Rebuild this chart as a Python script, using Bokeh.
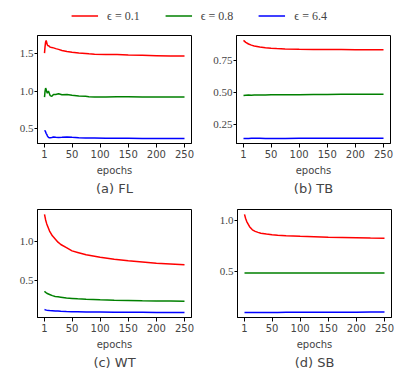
from bokeh.plotting import figure
from bokeh.layouts import column, row
from bokeh.models import FixedTicker, Title, Legend, LegendItem, Range1d
from bokeh.embed import file_html
from bokeh.resources import INLINE

# ---------------- data ----------------
eps_labels = ["ϵ = 0.1", "ϵ = 0.8", "ϵ = 6.4"]
x_ticks = [1, 50, 100, 150, 200, 250]

# (a) FL
fl_epochs = [1, 2, 3, 4, 5, 6, 7, 8, 9, 11, 14, 17, 21, 26, 32, 41, 50, 62, 74, 80, 90, 110, 130, 150, 175, 200, 225, 250]
fl_eps01 = [1.51, 1.60, 1.66, 1.68, 1.65, 1.62, 1.61, 1.61, 1.605, 1.59, 1.585, 1.58, 1.57, 1.56, 1.545, 1.53, 1.52, 1.51, 1.505, 1.50, 1.495, 1.49, 1.49, 1.485, 1.48, 1.475, 1.47, 1.47]
fl_eps08 = [0.92, 1.00, 1.04, 1.02, 0.99, 0.97, 0.99, 1.00, 0.98, 0.94, 0.93, 0.955, 0.955, 0.965, 0.95, 0.955, 0.945, 0.935, 0.93, 0.925, 0.92, 0.92, 0.925, 0.925, 0.92, 0.92, 0.92, 0.92]
fl_eps64 = [0.46, 0.47, 0.45, 0.43, 0.42, 0.40, 0.39, 0.38, 0.375, 0.375, 0.378, 0.385, 0.38, 0.378, 0.38, 0.385, 0.38, 0.375, 0.372, 0.37, 0.37, 0.368, 0.366, 0.366, 0.365, 0.365, 0.364, 0.363]
fl_yticks = [0.5, 1.0, 1.5]
fl_ylabels = ["0.5", "1.0", "1.5"]

# (b) TB
tb_epochs = [1, 5, 10, 15, 20, 30, 40, 50, 60, 75, 100, 125, 150, 175, 200, 225, 250]
tb_eps01 = [0.905, 0.89, 0.877, 0.868, 0.862, 0.853, 0.848, 0.844, 0.841, 0.838, 0.836, 0.835, 0.834, 0.834, 0.833, 0.833, 0.833]
tb_eps08 = [0.475, 0.478, 0.480, 0.478, 0.479, 0.480, 0.480, 0.481, 0.481, 0.482, 0.482, 0.483, 0.483, 0.484, 0.484, 0.485, 0.485]
tb_eps64 = [0.140, 0.139, 0.140, 0.141, 0.141, 0.141, 0.140, 0.140, 0.140, 0.140, 0.141, 0.141, 0.141, 0.141, 0.142, 0.142, 0.142]
tb_yticks = [0.25, 0.50, 0.75]
tb_ylabels = ["0.25", "0.50", "0.75"]

# (c) WT
wt_epochs = [1, 3, 5, 10, 15, 20, 25, 30, 40, 50, 60, 75, 100, 125, 150, 175, 200, 225, 250]
wt_eps01 = [1.34, 1.27, 1.22, 1.13, 1.07, 1.03, 0.99, 0.96, 0.92, 0.88, 0.86, 0.83, 0.80, 0.775, 0.755, 0.74, 0.725, 0.715, 0.705]
wt_eps08 = [0.37, 0.355, 0.345, 0.33, 0.315, 0.305, 0.30, 0.295, 0.285, 0.28, 0.275, 0.27, 0.263, 0.258, 0.254, 0.25, 0.248, 0.246, 0.244]
wt_eps64 = [0.14, 0.135, 0.132, 0.128, 0.125, 0.122, 0.12, 0.118, 0.115, 0.113, 0.112, 0.11, 0.108, 0.106, 0.105, 0.104, 0.103, 0.102, 0.101]
wt_yticks = [0.5, 1.0]
wt_ylabels = ["0.5", "1.0"]

# (d) SB
sb_epochs = [1, 3, 5, 10, 15, 20, 25, 30, 40, 50, 60, 75, 100, 125, 150, 175, 200, 225, 250]
sb_eps01 = [1.06, 1.02, 0.99, 0.94, 0.91, 0.895, 0.885, 0.877, 0.868, 0.862, 0.857, 0.852, 0.846, 0.842, 0.838, 0.835, 0.832, 0.829, 0.827]
sb_eps08 = [0.490, 0.490, 0.490, 0.490, 0.490, 0.490, 0.490, 0.490, 0.490, 0.490, 0.490, 0.490, 0.490, 0.490, 0.490, 0.490, 0.490, 0.490, 0.490]
sb_eps64 = [0.103, 0.103, 0.104, 0.104, 0.104, 0.104, 0.105, 0.105, 0.105, 0.105, 0.105, 0.106, 0.106, 0.106, 0.107, 0.107, 0.107, 0.108, 0.108]
sb_yticks = [0.5, 1.0]
sb_ylabels = ["0.5", "1.0"]

captions = ["(a) FL", "(b) TB", "(c) WT", "(d) SB"]

# ---------------- style ----------------
COLORS = ["#ff0000", "#008000", "#0000ff"]
SANS = "DejaVu Sans"
SERIF = "Liberation Serif"


def padded(vals, frac=0.05):
    lo, hi = min(vals), max(vals)
    d = (hi - lo) * frac
    return Range1d(lo - d, hi + d)


def panel(epochs, series, yticks, ylabels, caption, bl, br, bt, bb):
    allv = [v for s in series for v in s]
    p = figure(frame_width=154, frame_height=108, output_backend="svg", toolbar_location=None,
               x_range=padded(epochs), y_range=padded(allv),
               min_border_left=bl, min_border_right=br, min_border_top=bt, min_border_bottom=bb)
    for s, c in zip(series, COLORS):
        p.line(epochs, s, line_color=c, line_width=1.5)
    p.grid.visible = False
    p.outline_line_color = "black"
    p.outline_line_width = 1
    p.background_fill_color = "white"
    p.border_fill_color = "white"

    xa = p.xaxis[0]
    xa.ticker = FixedTicker(ticks=x_ticks)
    xa.major_label_text_font = SANS
    xa.major_label_text_font_size = "10px"
    xa.major_label_standoff = 2
    xa.major_tick_out = 4
    xa.major_tick_in = 0
    xa.minor_tick_line_color = None
    xa.axis_label = "epochs"
    xa.axis_label_text_font = SANS
    xa.axis_label_text_font_size = "10px"
    xa.axis_label_text_font_style = "normal"
    xa.axis_label_standoff = 4
    xa.axis_line_color = "black"

    ya = p.yaxis[0]
    ya.ticker = FixedTicker(ticks=yticks)
    ya.major_label_overrides = {t: l for t, l in zip(yticks, ylabels)}
    ya.major_label_text_font = SERIF
    ya.major_label_text_font_size = "11px"
    ya.major_label_standoff = 1
    ya.major_tick_out = 3
    ya.major_tick_in = 0
    ya.minor_tick_line_color = None
    ya.axis_line_color = "black"

    p.add_layout(Title(text=caption, align="center", text_font=SANS, text_font_size="13px",
                       text_font_style="normal", standoff=0), "below")
    return p


pa = panel(fl_epochs, [fl_eps01, fl_eps08, fl_eps64], fl_yticks, fl_ylabels, captions[0], 37, 9, 4, 64)
pb = panel(tb_epochs, [tb_eps01, tb_eps08, tb_eps64], tb_yticks, tb_ylabels, captions[1], 36, 18, 4, 64)
pc = panel(wt_epochs, [wt_eps01, wt_eps08, wt_eps64], wt_yticks, wt_ylabels, captions[2], 37, 9, 2, 54)
pd_ = panel(sb_epochs, [sb_eps01, sb_eps08, sb_eps64], sb_yticks, sb_ylabels, captions[3], 37, 18, 2, 54)

# legend strip
lg = figure(width=398, height=31, output_backend="svg", toolbar_location=None,
            x_range=Range1d(0, 1), y_range=Range1d(0, 1), min_border=0)
lg.axis.visible = False
lg.grid.visible = False
lg.outline_line_color = None
items = []
nan = float("nan")
for lab, c in zip(eps_labels, COLORS):
    r = lg.line([nan], [nan], line_color=c, line_width=1.5)
    items.append(LegendItem(label=lab, renderers=[r]))
legend = Legend(items=items, orientation="horizontal", location="center",
                glyph_width=27, glyph_height=12, label_standoff=9, spacing=25,
                padding=0, margin=0, border_line_color=None, background_fill_alpha=0,
                label_text_font=SERIF, label_text_font_size="12px", label_height=12)
lg.add_layout(legend, "center")

layout = column(lg, row(pa, pb), row(pc, pd_))

open("out.html", "w").write(file_html(layout, INLINE))
